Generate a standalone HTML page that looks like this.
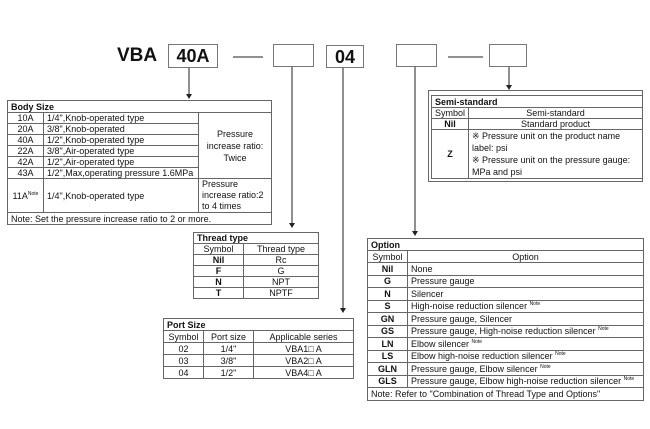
<!DOCTYPE html>
<html><head><meta charset="utf-8"><style>
body{margin:0;width:650px;height:429px;background:#fff;position:relative;overflow:hidden;font-family:"Liberation Sans",sans-serif;color:#111}
.a{position:absolute}
table{position:absolute;border-collapse:collapse;font-size:9px;table-layout:fixed}
td{border:1px solid #666;padding:0 3px;line-height:10px;white-space:nowrap;overflow:hidden}
.c{text-align:center}.b{font-weight:bold}
.box{position:absolute;border:1px solid #777;box-sizing:border-box;font-weight:bold;font-size:18px;text-align:center;line-height:22px}
sup{font-size:5px;vertical-align:baseline;position:relative;top:-4px;line-height:0}
</style></head><body>
<div class="a b" style="left:117px;top:45px;font-size:19px">VBA</div>
<div class="box" style="left:168px;top:44px;width:50px;height:24px">40A</div>
<div class="box" style="left:273px;top:44px;width:41px;height:23px"></div>
<div class="box" style="left:326px;top:45px;width:38px;height:23px">04</div>
<div class="box" style="left:396px;top:44px;width:41px;height:23px"></div>
<div class="box" style="left:489px;top:44px;width:38px;height:23px"></div>
<svg class="a" style="left:0;top:0" width="650" height="429">
<g stroke="#222" stroke-width="1" fill="none">
<line x1="233" y1="57" x2="263" y2="57"/><line x1="448" y1="57" x2="483" y2="57"/>
<line x1="189" y1="68" x2="189" y2="95"/>
<line x1="292" y1="67" x2="292" y2="224"/>
<line x1="343" y1="68" x2="343" y2="309"/>
<line x1="415" y1="67" x2="415" y2="232"/>
<line x1="509" y1="67" x2="509" y2="86"/>
</g>
<g fill="#222">
<polygon points="186,94 192,94 189,99"/><polygon points="289,223 295,223 292,228"/>
<polygon points="340,308 346,308 343,313"/><polygon points="412,231 418,231 415,236"/>
<polygon points="506,85 512,85 509,90"/>
</g>
<rect x="428.5" y="90.5" width="214" height="91" fill="none" stroke="#666"/>
</svg>

<table style="left:7px;top:100px;width:264px">
<colgroup><col style="width:36px"><col style="width:155px"><col style="width:73px"></colgroup>
<tr style="height:12px"><td colspan="3" class="b">Body Size</td></tr>
<tr style="height:11px"><td class="c">10A</td><td>1/4",Knob-operated type</td><td rowspan="6" class="c" style="white-space:normal;line-height:12px">Pressure increase ratio: Twice</td></tr>
<tr style="height:11px"><td class="c">20A</td><td>3/8",Knob-operated</td></tr>
<tr style="height:11px"><td class="c">40A</td><td>1/2",Knob-operated type</td></tr>
<tr style="height:11px"><td class="c">22A</td><td>3/8",Air-operated type</td></tr>
<tr style="height:11px"><td class="c">42A</td><td>1/2",Air-operated type</td></tr>
<tr style="height:11px"><td class="c">43A</td><td>1/2",Max,operating pressure 1.6MPa</td></tr>
<tr style="height:34px"><td class="c">11A<sup>Note</sup></td><td>1/4",Knob-operated type</td><td style="white-space:normal;line-height:11px">Pressure increase ratio:2 to 4 times</td></tr>
<tr style="height:12px"><td colspan="3">Note: Set the pressure increase ratio to 2 or more.</td></tr>
</table>

<table style="left:193px;top:232px;width:125px">
<colgroup><col style="width:50px"><col style="width:75px"></colgroup>
<tr style="height:11px"><td colspan="2" class="b">Thread type</td></tr>
<tr style="height:11px"><td class="c">Symbol</td><td class="c">Thread type</td></tr>
<tr style="height:11px"><td class="c b">Nil</td><td class="c">Rc</td></tr>
<tr style="height:11px"><td class="c b">F</td><td class="c">G</td></tr>
<tr style="height:11px"><td class="c b">N</td><td class="c">NPT</td></tr>
<tr style="height:11px"><td class="c b">T</td><td class="c">NPTF</td></tr>
</table>

<table style="left:163px;top:318px;width:190px">
<colgroup><col style="width:40px"><col style="width:50px"><col style="width:100px"></colgroup>
<tr style="height:12px"><td colspan="3" class="b">Port Size</td></tr>
<tr style="height:12px"><td class="c">Symbol</td><td class="c">Port size</td><td class="c">Applicable series</td></tr>
<tr style="height:12px"><td class="c">02</td><td class="c">1/4"</td><td class="c">VBA1□ A</td></tr>
<tr style="height:12px"><td class="c">03</td><td class="c">3/8"</td><td class="c">VBA2□ A</td></tr>
<tr style="height:12px"><td class="c">04</td><td class="c">1/2"</td><td class="c">VBA4□ A</td></tr>
</table>

<table style="left:431px;top:95px;width:211px">
<colgroup><col style="width:37px"><col style="width:174px"></colgroup>
<tr style="height:12px"><td colspan="2" class="b">Semi-standard</td></tr>
<tr style="height:11px"><td class="c">Symbol</td><td class="c">Semi-standard</td></tr>
<tr style="height:11px"><td class="c b">Nil</td><td class="c">Standard product</td></tr>
<tr style="height:49px"><td class="c b">Z</td><td style="white-space:normal;line-height:12px">※ Pressure unit on the product name label: psi<br>※ Pressure unit on the pressure gauge: MPa and psi</td></tr>
</table>

<table style="left:367px;top:238px;width:276px">
<colgroup><col style="width:40px"><col style="width:236px"></colgroup>
<tr style="height:12px"><td colspan="2" class="b">Option</td></tr>
<tr style="height:12px"><td class="c">Symbol</td><td class="c">Option</td></tr>
<tr style="height:12.5px"><td class="c b">Nil</td><td>None</td></tr>
<tr style="height:12.5px"><td class="c b">G</td><td>Pressure gauge</td></tr>
<tr style="height:12.5px"><td class="c b">N</td><td>Silencer</td></tr>
<tr style="height:12.5px"><td class="c b">S</td><td>High-noise reduction silencer <sup>Note</sup></td></tr>
<tr style="height:12.5px"><td class="c b">GN</td><td>Pressure gauge, Silencer</td></tr>
<tr style="height:12.5px"><td class="c b">GS</td><td>Pressure gauge, High-noise reduction silencer <sup>Note</sup></td></tr>
<tr style="height:12.5px"><td class="c b">LN</td><td>Elbow silencer <sup>Note</sup></td></tr>
<tr style="height:12.5px"><td class="c b">LS</td><td>Elbow high-noise reduction silencer <sup>Note</sup></td></tr>
<tr style="height:12.5px"><td class="c b">GLN</td><td>Pressure gauge, Elbow silencer <sup>Note</sup></td></tr>
<tr style="height:12.5px"><td class="c b">GLS</td><td>Pressure gauge, Elbow high-noise reduction silencer <sup>Note</sup></td></tr>
<tr style="height:13px"><td colspan="2">Note: Refer to "Combination of Thread Type and Options"</td></tr>
</table>
</body></html>
